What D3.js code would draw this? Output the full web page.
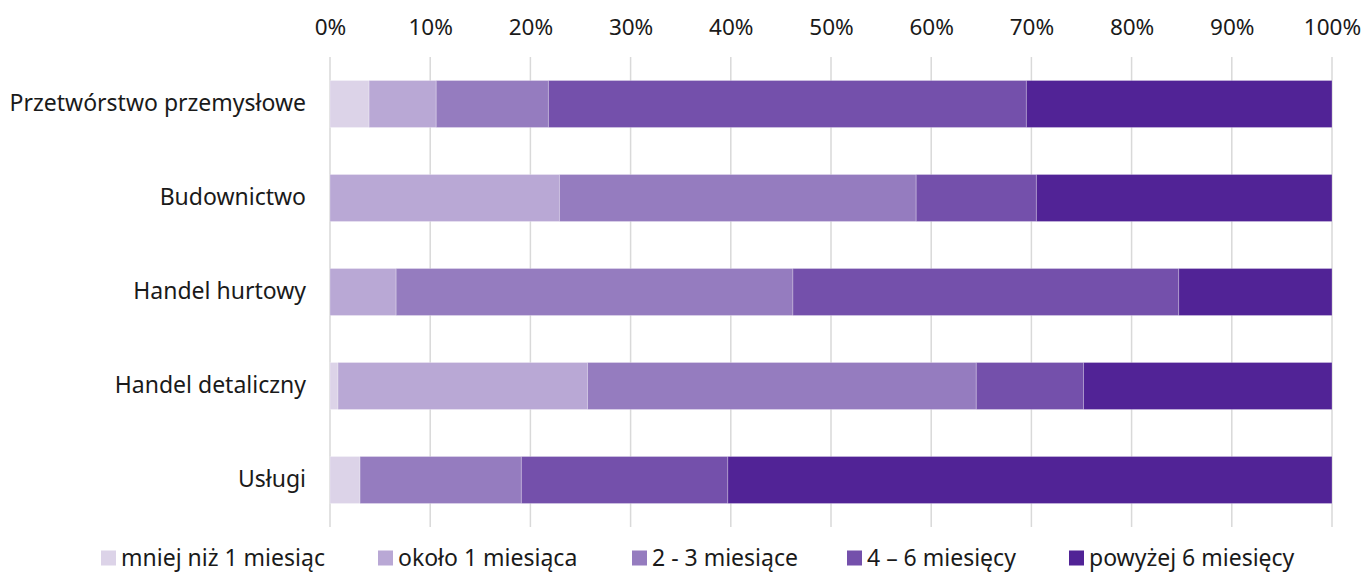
<!DOCTYPE html>
<html><head><meta charset="utf-8">
<script src="https://cdn.jsdelivr.net/npm/d3@7"></script>
<style>body{margin:0;background:#fff;} svg{display:block;} svg text{font-family:"Noto Sans",sans-serif;}</style>
</head><body>
<svg id="c" width="1364" height="574"></svg>
<script>
const categories = ["Przetwórstwo przemysłowe","Budownictwo","Handel hurtowy","Handel detaliczny","Usługi"];
const seriesNames = ["mniej niż 1 miesiąc","około 1 miesiąca","2 - 3 miesiące","4 – 6 miesięcy","powyżej 6 miesięcy"];
const s1 = [3.9, 0, 0, 0.8, 3.0];
const s2 = [6.7, 22.9, 6.6, 24.9, 0];
const s3 = [11.2, 35.6, 39.6, 38.8, 16.1];
const s4 = [47.7, 12.0, 38.5, 10.7, 20.6];
const s5 = [30.5, 29.5, 15.3, 24.8, 60.3];
const colors = ["#DCD3E8","#B9A8D5","#957CBF","#7450AB","#512396"];
const tickValues = [0,0.1,0.2,0.3,0.4,0.5,0.6,0.7,0.8,0.9,1];

const seriesVals = [s1,s2,s3,s4,s5];
const rows = categories.map((c,i)=>{const o={cat:c}; seriesNames.forEach((s,j)=>o[s]=seriesVals[j][i]/100); return o;});
const stack = d3.stack().keys(seriesNames)(rows);

const svg = d3.select("#c");
const x = d3.scaleLinear().domain([0,1]).range([330,1332]);
const y = d3.scaleBand().domain(categories).range([57,527]).paddingInner(0.5).paddingOuter(0.25);
const FS = 22.5;

// gridlines
svg.append("g").selectAll("line").data(tickValues).join("line")
  .attr("x1",d=>x(d)).attr("x2",d=>x(d)).attr("y1",57).attr("y2",527)
  .attr("stroke","#d9d9d9").attr("stroke-width",1.5);

// top axis
const ax = svg.append("g").attr("transform","translate(0,35)")
  .call(d3.axisTop(x).tickValues(tickValues).tickFormat(d3.format(".0%")).tickSize(0).tickPadding(0));
ax.select(".domain").remove();
ax.attr("font-family",null).attr("font-size",null);
ax.selectAll("text").attr("font-size",FS).attr("fill","#1a1a1a");

// bars
svg.append("g").selectAll("g").data(stack).join("g")
  .attr("fill",(d,i)=>colors[i])
  .selectAll("rect").data(d=>d).join("rect")
  .attr("x",d=>x(d[0])).attr("width",d=>x(d[1])-x(d[0]))
  .attr("y",d=>y(d.data.cat)).attr("height",y.bandwidth())
  .attr("stroke","rgba(255,255,255,0.25)").attr("stroke-width",1);

// category axis
const ay = svg.append("g").attr("transform","translate(330,0)")
  .call(d3.axisLeft(y).tickSize(0).tickPadding(24));
ay.select(".domain").remove();
ay.attr("font-family",null).attr("font-size",null);
ay.selectAll("text").attr("font-size",23).attr("fill","#1a1a1a");

// legend
const legX = [101, 378, 632, 847, 1069];
const leg = svg.append("g").selectAll("g").data(seriesNames).join("g")
  .attr("transform",(d,i)=>`translate(${legX[i]},558)`);
leg.append("rect").attr("x",0).attr("y",-7.5).attr("width",15).attr("height",15).attr("fill",(d,i)=>colors[i]);
leg.append("text").attr("x",20).attr("y",0).attr("dy","0.36em").attr("font-size",23).attr("fill","#1a1a1a").text(d=>d);
</script>
</body></html>
